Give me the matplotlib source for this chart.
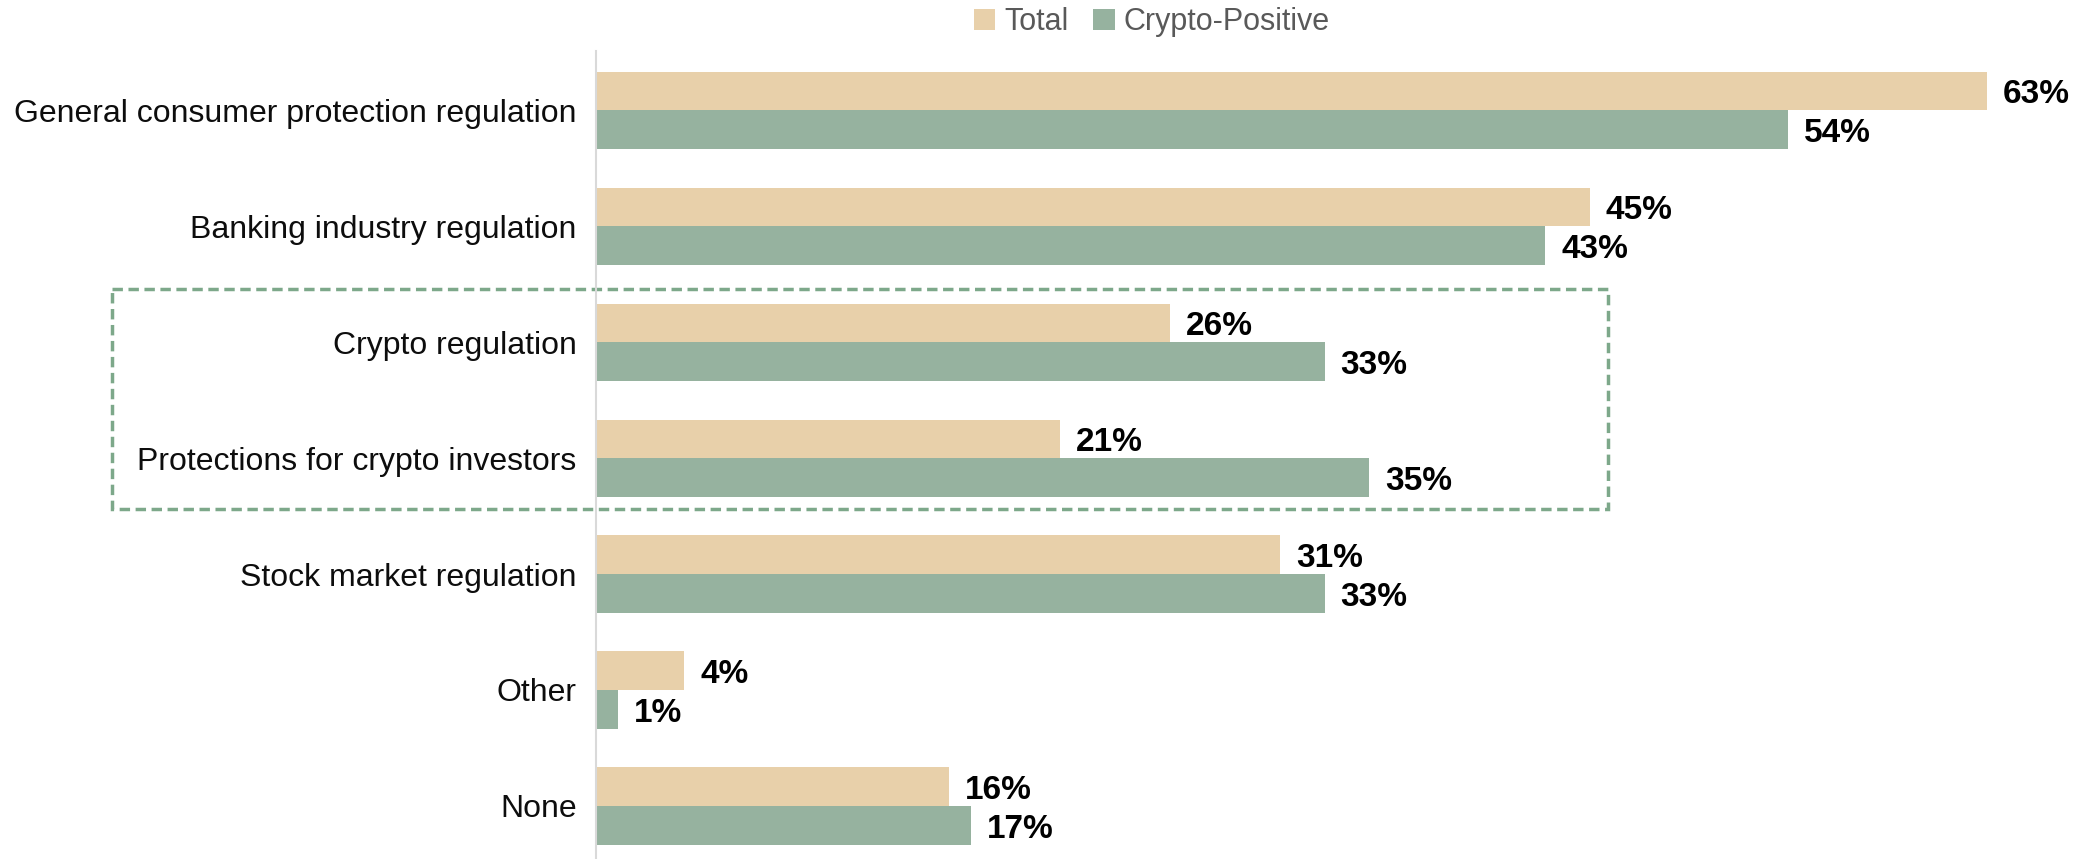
import matplotlib
matplotlib.use("Agg")
import matplotlib.pyplot as plt
from matplotlib.patches import Rectangle
import numpy as np

plt.rcParams['font.family'] = ['Liberation Sans', 'DejaVu Sans']

categories = ["General consumer protection regulation",
              "Banking industry regulation",
              "Crypto regulation",
              "Protections for crypto investors",
              "Stock market regulation",
              "Other",
              "None"]
total = [63, 45, 26, 21, 31, 4, 16]
crypto_pos = [54, 43, 33, 35, 33, 1, 17]

c_total = "#E8D0AA"
c_crypto = "#96B29F"

W, H = 2082, 859
fig = plt.figure(figsize=(W / 100, H / 100), dpi=100)
ax = fig.add_axes([596 / W, 0, 1 - 596 / W, 1 - 51 / H])

y = np.arange(len(categories))
h = 0.332
ax.barh(y - h / 2, total, height=h, color=c_total, label="Total")
ax.barh(y + h / 2, crypto_pos, height=h, color=c_crypto, label="Crypto-Positive")

for i in range(len(categories)):
    ax.annotate(f"{total[i]}%", (total[i], y[i] - h / 2), xytext=(16, -4),
                textcoords="offset pixels", va="center", ha="left",
                fontsize=24, fontweight="bold", color="black")
    ax.annotate(f"{crypto_pos[i]}%", (crypto_pos[i], y[i] + h / 2), xytext=(16, -4),
                textcoords="offset pixels", va="center", ha="left",
                fontsize=24, fontweight="bold", color="black")

ax.set_xlim(0, (W - 596) / 22.08)
ax.set_ylim(6.457, -0.509)
ax.set_yticks(y)
ax.set_yticklabels(categories, fontsize=23, color="#0d0d0d")
ax.tick_params(axis="y", length=0, pad=14)
ax.set_xticks([])
for s in ["top", "right", "bottom"]:
    ax.spines[s].set_visible(False)
ax.spines["left"].set_color("#D9D9D9")
ax.spines["left"].set_linewidth(1.5)

# dashed frame around the crypto-related rows
px = 22.08
x0 = (112 - 596) / px
x1 = (1608 - 596) / px
ax.add_patch(Rectangle((x0, 1.543), x1 - x0, 3.44 - 1.543, fill=False,
                       edgecolor="#7DA88A", linewidth=2.5,
                       linestyle=(0, (3, 1.6)), clip_on=False))

fig.legend(loc="center", bbox_to_anchor=(1152 / W, 1 - 22 / H), ncol=2,
           frameon=False, fontsize=22, labelcolor="#595959",
           handlelength=0.7, handleheight=0.7, handletextpad=0.3,
           columnspacing=0.8)

fig.savefig("out.png", dpi=100)
